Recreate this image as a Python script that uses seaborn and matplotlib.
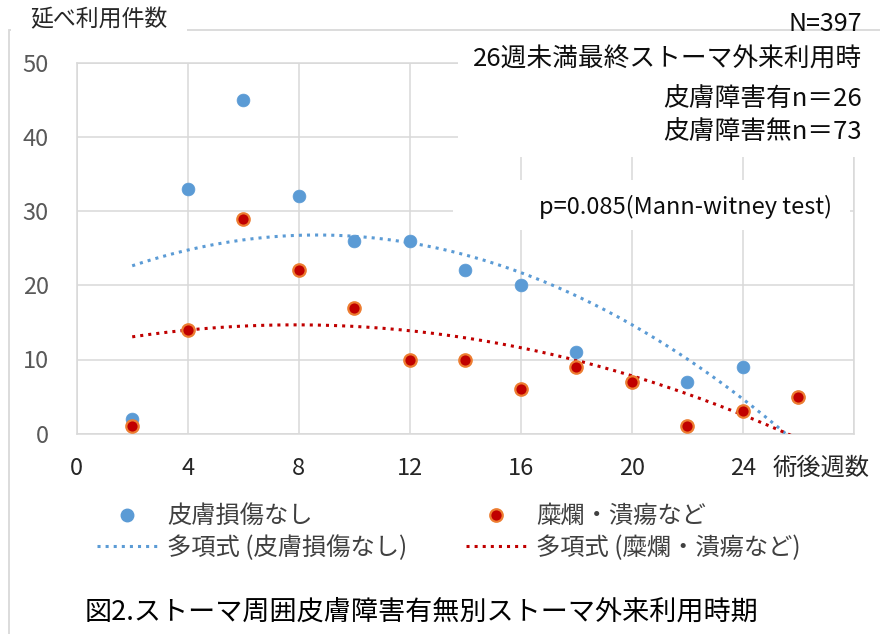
import numpy as np
import pandas as pd
import seaborn as sns
import matplotlib.pyplot as plt
from matplotlib.lines import Line2D
from matplotlib.patches import Rectangle

# データ（術後週数ごとの延べ利用件数）
# 青の20週・26週は赤の点の下に隠れている
weeks_none = [2, 4, 6, 8, 10, 12, 14, 16, 18, 20, 22, 24, 26]
count_none = [2, 33, 45, 32, 26, 26, 22, 20, 11, 7, 7, 9, 5]
weeks_ulcer = [2, 4, 6, 8, 10, 12, 14, 16, 18, 20, 22, 24, 26]
count_ulcer = [1, 14, 29, 22, 17, 10, 10, 6, 9, 7, 1, 3, 5]

label_none = "皮膚損傷なし"
label_ulcer = "糜爛・潰瘍など"
x_ticks = [0, 4, 8, 12, 16, 20, 24]
y_ticks = [0, 10, 20, 30, 40, 50]

blue = "#5B9BD5"
red = "#C00000"
orange = "#ED7D31"
grid = "#D9D9D9"

sns.set_theme(style="white")
plt.rcParams['font.family'] = ['Noto Sans CJK JP', 'DejaVu Sans']

df_none = pd.DataFrame({"週": weeks_none, "件数": count_none})
df_ulcer = pd.DataFrame({"週": weeks_ulcer, "件数": count_ulcer})

W, H = 880, 634
fig = plt.figure(figsize=(W / 100, H / 100), dpi=100)
ax = fig.add_axes([76.7 / W, 1 - 433.7 / H, 777 / W, 371 / H])

# 枠線（グラフエリア）
fig.patches.append(Rectangle((9 / W, -0.1), 2, 1.1 - 30 / H, transform=fig.transFigure,
                             fill=False, edgecolor=grid, lw=1.3, zorder=0))
# テキストボックスの白背景
fig.patches.append(Rectangle((458 / W, 1 - 157 / H), 412 / W, 120 / H, transform=fig.transFigure,
                             facecolor='white', edgecolor='none', zorder=2))
fig.patches.append(Rectangle((453 / W, 1 - 230 / H), 397 / W, 50 / H, transform=fig.transFigure,
                             facecolor='white', edgecolor='none', zorder=2))

sns.scatterplot(data=df_none, x="週", y="件数", ax=ax, color=blue, s=85,
                edgecolor=blue, linewidth=0.5, zorder=4, clip_on=False)
sns.scatterplot(data=df_ulcer, x="週", y="件数", ax=ax, color=red, s=80,
                edgecolor=orange, linewidth=1.6, zorder=5, clip_on=False)

# 多項式近似（2次）
for xs, ys, c in [(weeks_none, count_none, blue), (weeks_ulcer, count_ulcer, red)]:
    coef = np.polyfit(xs, ys, 2)
    xx = np.linspace(min(xs), max(xs), 200)
    ax.plot(xx, np.polyval(coef, xx), ls=':', lw=2.2, color=c, zorder=3)

ax.set_xlim(0, 28)
ax.set_ylim(0, 50)
ax.set_xticks(x_ticks + [28])
ax.set_xticklabels([str(t) for t in x_ticks] + [""])
ax.set_yticks(y_ticks)
ax.grid(True, color=grid, lw=1.1)
ax.set_axisbelow(True)
for s in ax.spines.values():
    s.set_color(grid)
    s.set_linewidth(1.1)
ax.tick_params(axis='x', colors=grid, labelcolor="#262626", labelsize=17, length=0, pad=17)
ax.tick_params(axis='y', colors=grid, labelcolor="#595959", labelsize=17, length=0, pad=20)
ax.set_xlabel("")
ax.set_ylabel("")

fig.text(870 / W, 1 - 468 / H, "術後週数", ha='right', va='center', fontsize=17.5, color="#262626")
fig.text(30 / W, 1 - 20 / H, "延べ利用件数", ha='left', va='center', fontsize=16.5, color="#262626",
         bbox=dict(facecolor='white', edgecolor='none', pad=14))

fig.text(862 / W, 1 - 24 / H, "N=397", ha='right', va='center', fontsize=18, color="#0d0d0d", zorder=3)
for txt, yy in [("26週未満最終ストーマ外来利用時", 60), ("皮膚障害有n＝26", 99), ("皮膚障害無n＝73", 132)]:
    fig.text(862 / W, 1 - yy / H, txt, ha='right', va='center', fontsize=18.5, color="#0d0d0d", zorder=3)
fig.text(832 / W, 1 - 207 / H, "p=0.085(Mann-witney test)", ha='right', va='center',
         fontsize=17, color="#0d0d0d", zorder=3)

handles = [
    Line2D([], [], ls='none', marker='o', ms=9, color=blue, mec=blue),
    Line2D([], [], ls=':', lw=2.2, color=blue),
    Line2D([], [], ls='none', marker='o', ms=9, color=red, mec=orange, mew=1.6),
    Line2D([], [], ls=':', lw=2.2, color=red),
]
labels = [label_none, f"多項式 ({label_none})", label_ulcer, f"多項式 ({label_ulcer})"]
fig.legend(handles, labels, ncol=2, loc='center left', bbox_to_anchor=(75 / W, 1 - 532 / H),
           frameon=False, fontsize=17.5, handlelength=2.5, columnspacing=2.4,
           labelspacing=0.22, handletextpad=0.4, labelcolor="#404040")

fig.text(85 / W, 1 - 612 / H, "図2.ストーマ周囲皮膚障害有無別ストーマ外来利用時期",
         ha='left', va='center', fontsize=19.5, color="#000000")

fig.savefig("out.png", dpi=100)
